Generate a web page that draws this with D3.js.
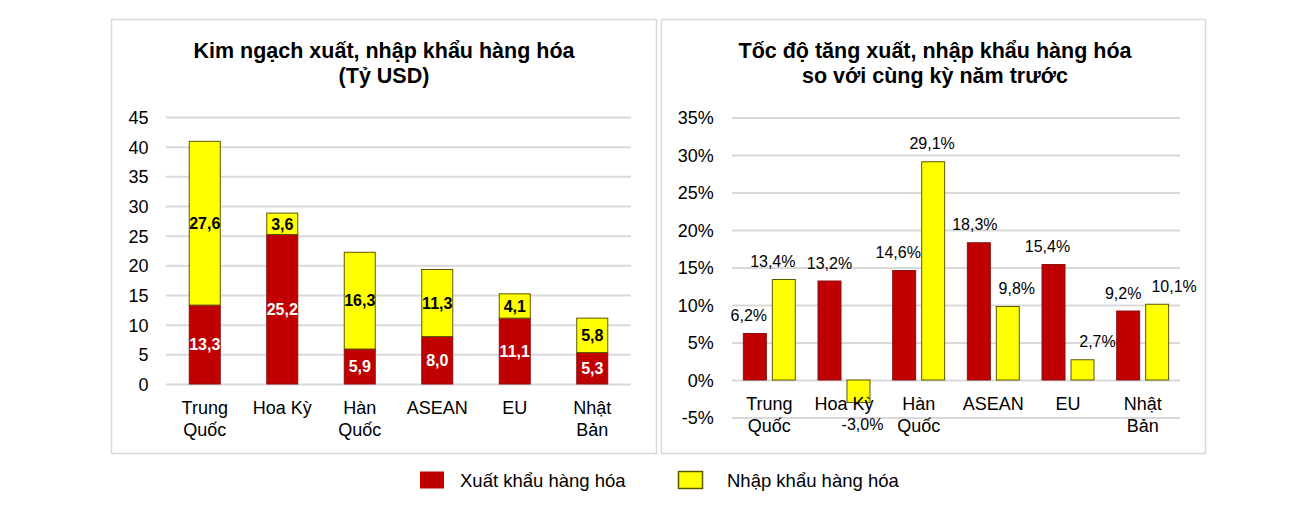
<!DOCTYPE html>
<html>
<head>
<meta charset="utf-8">
<script src="https://cdn.jsdelivr.net/npm/d3@7"></script>
<style>
  html, body { margin: 0; padding: 0; background: #fff; }
  svg text { font-family: "Liberation Sans", Arial, sans-serif; }
</style>
</head>
<body>
<svg id="chart" width="1309" height="525"></svg>
<script>
// ---------- DATA ----------
const categories = [["Trung", "Quốc"], ["Hoa Kỳ"], ["Hàn", "Quốc"], ["ASEAN"], ["EU"], ["Nhật", "Bản"]];
const seriesNames = ["Xuất khẩu hàng hóa", "Nhập khẩu hàng hóa"];
// Left chart: trade value (billion USD)
const exportValue = [13.3, 25.2, 5.9, 8.0, 11.1, 5.3];
const importValue = [27.6, 3.6, 16.3, 11.3, 4.1, 5.8];
const leftTicks = [0, 5, 10, 15, 20, 25, 30, 35, 40, 45];
// Right chart: growth vs same period last year (%)
const exportGrowth = [6.2, 13.2, 14.6, 18.3, 15.4, 9.2];
const importGrowth = [13.4, -3.0, 29.1, 9.8, 2.7, 10.1];
const rightTicks = [-5, 0, 5, 10, 15, 20, 25, 30, 35];
// label nudges (layout only)
const exportLabelDx = [-6, 0, -6, -4, -6, -5];
const importLabelDx = [-11, 4, -1, 9, 15, 17];

const RED = "#C00000", YELLOW = "#FFFF00", GRID = "#d9d9d9";
const RED_EDGE = "#8a1010", YEL_EDGE = "#5c5800";

const svg = d3.select("#chart");
svg.append("rect").attr("width", 1309).attr("height", 525).attr("fill", "#fff");

// panel borders
svg.append("rect").attr("x", 111.5).attr("y", 19.5).attr("width", 545).attr("height", 434)
  .attr("fill", "none").attr("stroke", GRID).attr("stroke-width", 1.5);
svg.append("rect").attr("x", 661.5).attr("y", 19.5).attr("width", 544).attr("height", 434)
  .attr("fill", "none").attr("stroke", GRID).attr("stroke-width", 1.5);

const fmt = v => d3.format(".1f")(v).replace(".", ",").replace("\u2212", "-");
const catIdx = categories.map((c, i) => i);

function titles(cx, lines) {
  lines.forEach((t, i) => {
    svg.append("text").attr("x", cx).attr("y", 58 + i * 24.5)
      .attr("text-anchor", "middle").attr("font-size", 21.5).attr("font-weight", "bold")
      .attr("fill", "#000").text(t);
  });
}

function catLabels(g, x, baseY) {
  catIdx.forEach(i => {
    const t = g.append("text").attr("text-anchor", "middle").attr("font-size", 18).attr("fill", "#000");
    categories[i].forEach((line, j) => {
      t.append("tspan").attr("x", x(i) + x.bandwidth() / 2).attr("y", baseY + j * 21.5).text(line);
    });
  });
}

// ---------- LEFT CHART ----------
{
  titles(384, ["Kim ngạch xuất, nhập khẩu hàng hóa", "(Tỷ USD)"]);
  const g = svg.append("g");
  const x = d3.scaleBand().domain(catIdx).range([166, 631]).paddingInner(0.6).paddingOuter(0.3);
  const y = d3.scaleLinear().domain([0, 45]).range([384, 117]);

  const yAxis = d3.axisLeft(y).tickValues(leftTicks).tickSize(-(631 - 166)).tickFormat(d => d);
  const ga = g.append("g").attr("transform", "translate(166,0)").call(yAxis);
  ga.select(".domain").remove();
  ga.selectAll(".tick line").attr("stroke", GRID).attr("stroke-width", 2);
  ga.selectAll(".tick text").attr("x", -17.5).attr("dy", "0.36em").attr("font-size", 18)
    .attr("fill", "#000").style("font-family", '"Liberation Sans", Arial, sans-serif');

  const stack = d3.stack().keys([0, 1]).value((i, k) => k === 0 ? exportValue[i] : importValue[i]);
  const layers = stack(catIdx);
  const colors = [RED, YELLOW], edges = [RED_EDGE, YEL_EDGE];
  layers.forEach((layer, k) => {
    g.selectAll(null).data(layer).enter().append("rect")
      .attr("x", d => x(d.data))
      .attr("width", x.bandwidth())
      .attr("y", d => y(d[1]))
      .attr("height", d => y(d[0]) - y(d[1]))
      .attr("fill", colors[k]).attr("stroke", edges[k]).attr("stroke-width", 1);
  });
  layers.forEach((layer, k) => {
    g.selectAll(null).data(layer).enter().append("text")
      .attr("x", d => x(d.data) + x.bandwidth() / 2)
      .attr("y", d => (y(d[0]) + y(d[1])) / 2 + 5.8)
      .attr("text-anchor", "middle").attr("font-size", 16).attr("font-weight", "bold")
      .attr("fill", k === 0 ? "#fff" : "#000")
      .text(d => fmt(d[1] - d[0]));
  });
  catLabels(g, x, 414);
}

// ---------- RIGHT CHART ----------
{
  titles(935, ["Tốc độ tăng xuất, nhập khẩu hàng hóa", "so với cùng kỳ năm trước"]);
  const g = svg.append("g");
  const x0 = d3.scaleBand().domain(catIdx).range([732, 1180]).paddingInner(0.304).paddingOuter(0.152);
  const x1 = d3.scaleBand().domain([0, 1]).range([0, x0.bandwidth()]).paddingInner(0.207);
  const y = d3.scaleLinear().domain([-5, 35]).range([417.5, 117.5]);

  const yAxis = d3.axisLeft(y).tickValues(rightTicks).tickSize(-(1180 - 732)).tickFormat(d => d + "%");
  const ga = g.append("g").attr("transform", "translate(732,0)").call(yAxis);
  ga.select(".domain").remove();
  ga.selectAll(".tick line").attr("stroke", GRID).attr("stroke-width", 2);
  ga.selectAll(".tick text").attr("x", -18.3).attr("dy", "0.36em").attr("font-size", 18)
    .attr("fill", "#000").style("font-family", '"Liberation Sans", Arial, sans-serif');

  const series = [exportGrowth, importGrowth];
  const nudges = [exportLabelDx, importLabelDx];
  const colors = [RED, YELLOW], edges = [RED_EDGE, YEL_EDGE];
  series.forEach((vals, k) => {
    g.selectAll(null).data(catIdx).enter().append("rect")
      .attr("x", i => x0(i) + x1(k))
      .attr("width", x1.bandwidth())
      .attr("y", i => y(Math.max(0, vals[i])))
      .attr("height", i => Math.abs(y(vals[i]) - y(0)))
      .attr("fill", colors[k]).attr("stroke", edges[k]).attr("stroke-width", 1);
  });
  catLabels(g, x0, 410);
  series.forEach((vals, k) => {
    g.selectAll(null).data(catIdx).enter().append("text")
      .attr("x", i => x0(i) + x1(k) + x1.bandwidth() / 2 + nudges[k][i])
      .attr("y", i => vals[i] >= 0 ? y(vals[i]) - 12.3 : y(vals[i]) + 27.7)
      .attr("text-anchor", "middle").attr("font-size", 16).attr("fill", "#000")
      .text(i => fmt(vals[i]) + "%");
  });
}

// ---------- LEGEND ----------
{
  const lg = svg.append("g");
  const items = [
    { name: seriesNames[0], fill: RED, stroke: "none", rx: 420, tx: 460, w: 24 },
    { name: seriesNames[1], fill: YELLOW, stroke: YEL_EDGE, rx: 678.5, tx: 727, w: 24 }
  ];
  items.forEach(it => {
    lg.append("rect").attr("x", it.rx).attr("y", 471.5).attr("width", it.w).attr("height", 17)
      .attr("fill", it.fill).attr("stroke", it.stroke).attr("stroke-width", 1.5);
    lg.append("text").attr("x", it.tx).attr("y", 486.5).attr("font-size", 18.5).attr("fill", "#000").text(it.name);
  });
}
</script>
</body>
</html>
